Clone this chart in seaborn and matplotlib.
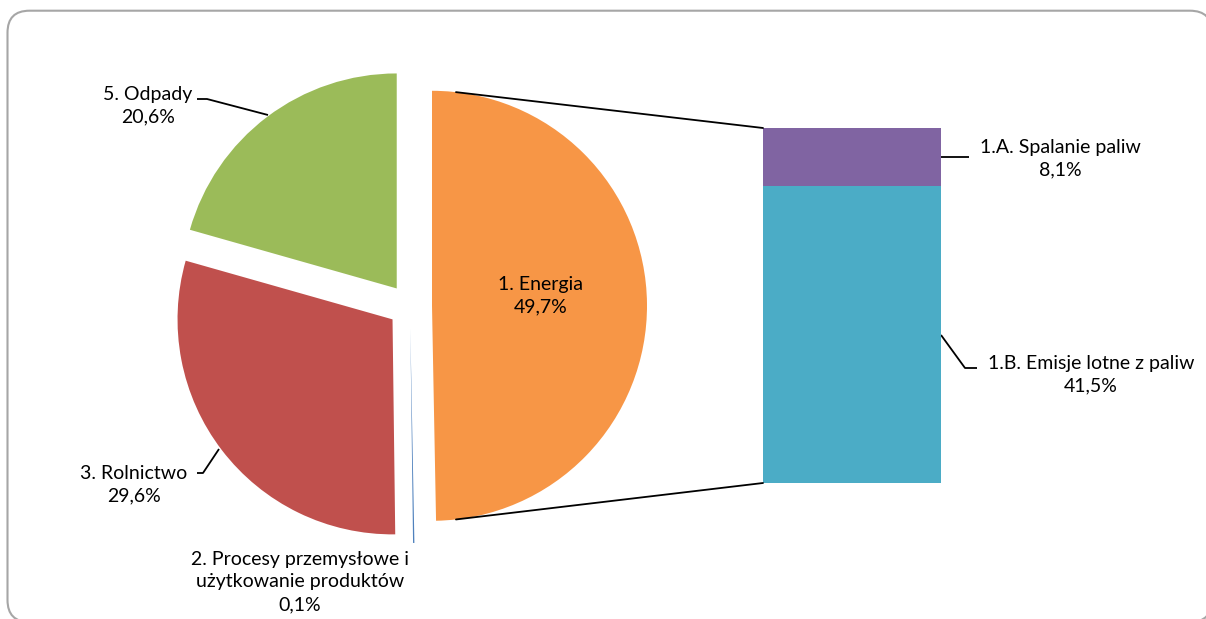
import numpy as np
import pandas as pd
import matplotlib
matplotlib.use("Agg")
import matplotlib.pyplot as plt
import seaborn as sns
from matplotlib.patches import FancyBboxPatch, ConnectionPatch

# ---- data ----
pie_labels = ["1. Energia", "2. Procesy przemysłowe i\nużytkowanie produktów", "3. Rolnictwo", "5. Odpady"]
pie_values = [49.7, 0.1, 29.6, 20.6]
pie_colors = ["#F79646", "#4F81BD", "#C0504D", "#9BBB59"]

bar_labels = ["1.A. Spalanie paliw", "1.B. Emisje lotne z paliw"]
bar_values = [8.1, 41.5]
bar_colors = ["#8064A2", "#4BACC6"]

def fmt(v):
    return f"{v:.1f}%".replace(".", ",")

sns.set_theme(style="white")
plt.rcParams['font.family'] = ['Lato', 'DejaVu Sans']

W, H = 1206, 619
fig = plt.figure(figsize=(W / 100, H / 100), dpi=100)
ax = fig.add_axes([0, 0, 1, 1])
ax.set_xlim(0, W)
ax.set_ylim(0, H)
ax.set_aspect('equal')
ax.axis('off')

# frame
frame = FancyBboxPatch((7.5, H - 622), 1212 - 7.5, 622 - 10.7,
                       boxstyle="round,pad=0,rounding_size=22",
                       fc="white", ec="#a6a6a6", lw=1.5, clip_on=False, zorder=0)
ax.add_patch(frame)

cx, cy, r = 410, H - 306, 215
expl = 22
wedges, _ = ax.pie(pie_values, colors=pie_colors, startangle=90, counterclock=False,
                   center=(cx, cy), radius=r, explode=[expl] * len(pie_values),
                   wedgeprops=dict(linewidth=0), frame=True)
ax.set_xlim(0, W)
ax.set_ylim(0, H)
ax.axis('off')

# bar of pie
bax = fig.add_axes([763 / W, (H - 483) / H, 178 / W, 355 / H])
total = sum(bar_values)
df = pd.DataFrame({"part": bar_labels, "value": bar_values, "color": bar_colors})
# stacked: top part drawn with cumulative height first, then lower part over it
cum = df["value"][::-1].cumsum()[::-1]
for i in range(len(df)):
    sns.barplot(x=[0], y=[cum.iloc[i]], color=df["color"].iloc[i], width=1,
                saturation=1, linewidth=0, ax=bax)
bax.set_xlim(-0.5, 0.5)
bax.set_ylim(0, total)
bax.axis('off')

# connector lines from the Energia slice to the bar
ow = wedges[0]
ocx, ocy = ow.center
ang = np.deg2rad(83.6)
p_top = (ocx + r * np.cos(ang), ocy + r * np.sin(ang))
p_bot = (ocx + r * np.cos(ang), ocy - r * np.sin(ang))
for pA, pB in [(p_top, (-0.5, total)), (p_bot, (-0.5, 0))]:
    con = ConnectionPatch(xyA=pA, coordsA=ax.transData, xyB=pB, coordsB=bax.transData,
                          color="black", lw=1.3)
    fig.add_artist(con)

fs = 14
tc = "black"
tk = dict(ha="center", va="center", fontsize=fs, color=tc, linespacing=1.4)
# pie labels
ax.text(541, H - 296, f"{pie_labels[0]}\n{fmt(pie_values[0])}", **tk)
ax.text(300, H - 582, f"{pie_labels[1]}\n{fmt(pie_values[1])}", **tk)
ax.text(134, H - 485, f"{pie_labels[2]}\n{fmt(pie_values[2])}", **tk)
ax.text(148, H - 106, f"{pie_labels[3]}\n{fmt(pie_values[3])}", **tk)
# bar labels
ax.text(1060, H - 159, f"{bar_labels[0]}\n{fmt(bar_values[0])}", **tk)
ax.text(1091, H - 375, f"{bar_labels[1]}\n{fmt(bar_values[1])}", **tk)

# leader lines
lk = dict(color="black", lw=1.3, solid_capstyle="butt")
ax.plot([197, 207, 268], [H - 99, H - 99, H - 115], **lk)
ax.plot([197, 203, 219], [H - 473, H - 473, H - 449], **lk)
ax.plot([941, 969], [H - 157, H - 157], **lk)
ax.plot([941, 965, 977], [H - 335, H - 368, H - 368], **lk)

fig.savefig("out.png", dpi=100)
